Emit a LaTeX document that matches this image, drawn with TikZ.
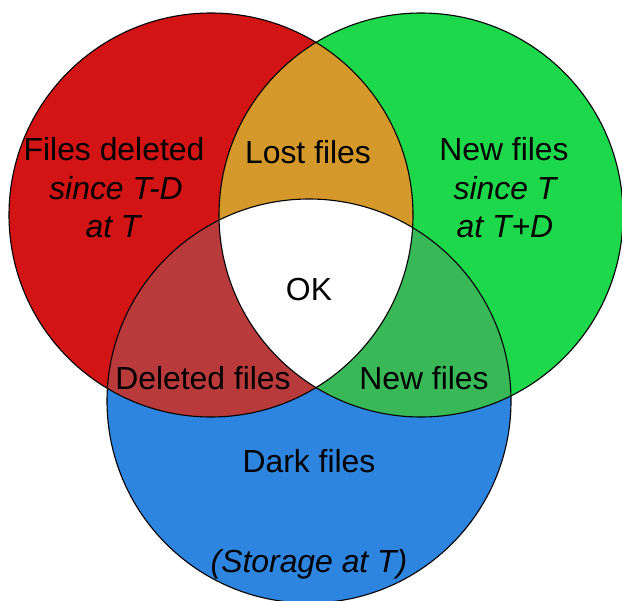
\documentclass[tikz,border=0pt]{standalone}
\usepackage{fontspec}
\setmainfont{Liberation Sans}
\definecolor{cred}{RGB}{210,20,20}
\definecolor{cgreen}{RGB}{29,216,74}
\definecolor{cblue}{RGB}{46,133,223}
\definecolor{corange}{RGB}{212,152,43}
\definecolor{cdred}{RGB}{185,58,58}
\definecolor{cdgreen}{RGB}{56,184,87}
\begin{document}
\begin{tikzpicture}[x=1bp,y=-1bp,
  lbl/.style={inner sep=0pt,anchor=base,font=\fontsize{32}{38}\selectfont},
  ilbl/.style={lbl,font=\fontsize{32}{38}\selectfont\itshape},
  rim/.style={draw=black,line width=1.1bp}]
\useasboundingbox (0,0) rectangle (622,601);
\coordinate (R) at (211,215);
\coordinate (G) at (421,215);
\coordinate (B) at (309,401);
\def\rad{202}
\fill[cred] (R) circle[radius=\rad];
\fill[cgreen] (G) circle[radius=\rad];
\fill[cblue] (B) circle[radius=\rad];
\begin{scope}
  \clip (R) circle[radius=\rad];
  \fill[corange] (G) circle[radius=\rad];
  \fill[cdred] (B) circle[radius=\rad];
\end{scope}
\begin{scope}
  \clip (G) circle[radius=\rad];
  \fill[cdgreen] (B) circle[radius=\rad];
  \clip (R) circle[radius=\rad];
  \fill[white] (B) circle[radius=\rad];
\end{scope}
\draw[rim] (R) circle[radius=\rad];
\draw[rim] (G) circle[radius=\rad];
\draw[rim] (B) circle[radius=\rad];
\node[lbl] (f1) at (114,161) {Files deleted};
\node[ilbl] (f2) at (116,199) {since T-D};
\node[ilbl] (f3) at (113,237) {at T};
\node[lbl] (lost) at (308,164) {Lost files};
\node[lbl] (n1) at (504,161) {New files};
\node[ilbl] (n2) at (505,199) {since T};
\node[ilbl] (n3) at (505,237) {at T+D};
\node[lbl] (ok) at (309,300) {OK};
\node[lbl] (del) at (203,389) {Deleted files};
\node[lbl] (new) at (424,389) {New files};
\node[lbl] (dark) at (309,472) {Dark files};
\node[ilbl] (stor) at (309,572) {(Storage at T)};
\end{tikzpicture}
\end{document}
